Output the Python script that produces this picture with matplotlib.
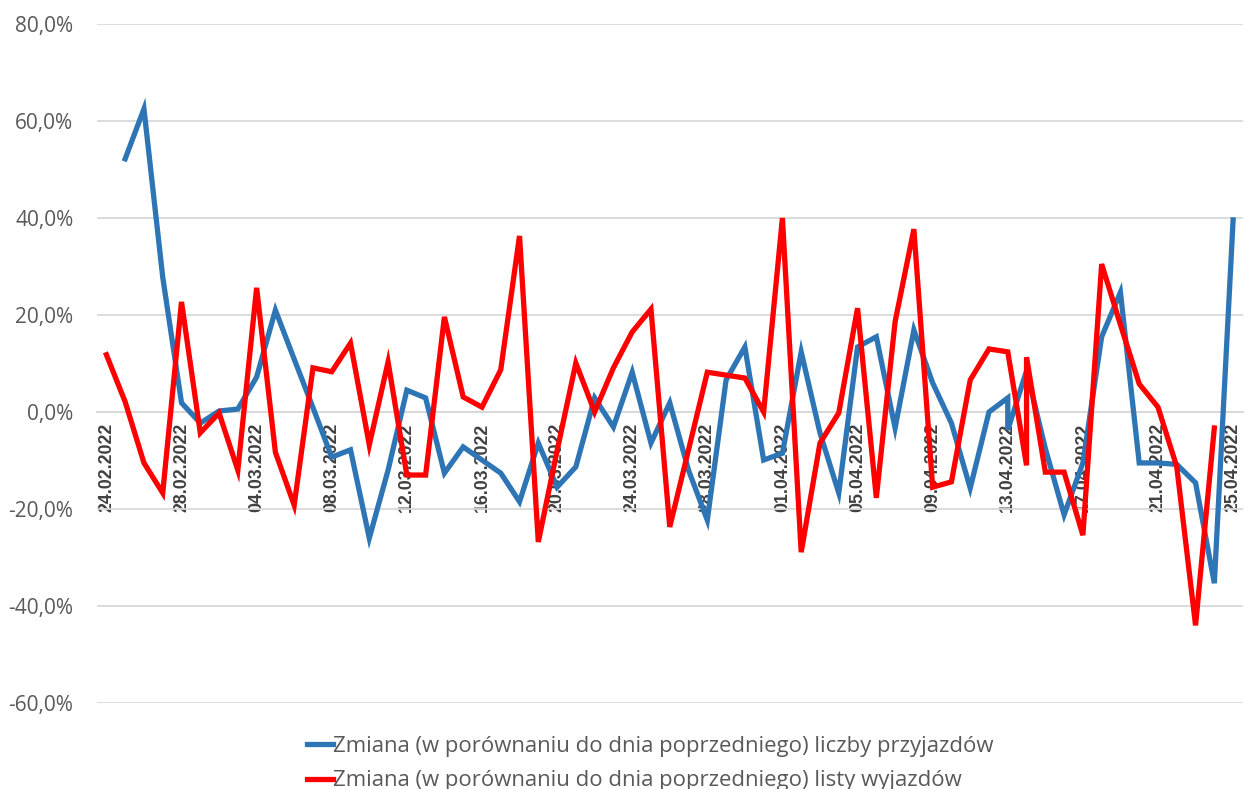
import matplotlib
matplotlib.use("Agg")
import matplotlib.pyplot as plt
import matplotlib.dates as mdates
from matplotlib.ticker import FuncFormatter
import numpy as np
import pandas as pd

# Daily dates of the observation period
dates = pd.date_range("2022-02-24", "2022-04-25", freq="D")

# Day-to-day change of arrivals, in percent (no value for the first day,
# two readings recorded on 13.04)
arrivals = [
    np.nan, 52.2, 62.5, 27.8, 1.9, -2.3, 0.2, 0.6, 7.2, 21.0,
    10.9, 0.9, -9.3, -7.8, -26.0, -12.0, 4.5, 2.9, -12.6, -7.2,
    -9.9, -12.6, -18.5, -6.4, -15.5, -11.3, 2.9, -3.1, 8.2, -6.4,
    1.9, -12.0, -22.3, 6.6, 13.4, -9.9, -8.5, 12.4, -4.3, -16.7,
    13.4, 15.5, -3.3, 16.9, 6.0, -2.3, -15.7, 0.0, 2.9, -3.7,
    8.5, -7.5, -21.2, -10.5, 15.5, 24.7, -10.5, -10.5, -10.8, -14.6,
    -35.3, 39.6,
]
arrivals_dates = dates.insert(48, dates[48])

# Day-to-day change of the departure list, in percent (last day missing,
# two readings recorded on 14.04)
departures = [
    11.8, 2.1, -10.5, -16.7, 22.7, -4.3, -0.2, -12.0, 25.6, -8.3,
    -19.2, 9.1, 8.3, 14.2, -6.8, 10.3, -13.0, -13.0, 19.6, 3.1,
    1.0, 8.7, 36.3, -26.8, -8.0, 10.1, 0.0, 9.1, 16.5, 21.2,
    -23.7, -7.8, 8.2, 7.6, 7.0, 0.0, 40.0, -28.9, -6.4, -0.2,
    21.4, -17.7, 18.6, 37.7, -15.5, -14.4, 6.6, 13.0, 12.4, -11.0,
    11.3, -12.4, -12.4, -25.4, 30.5, 18.0, 5.8, 1.0, -11.3, -44.0,
    -3.3,
]
departures_dates = dates[:60].insert(49, dates[49])

tick_dates = dates[::4]
y_ticks = [-60, -40, -20, 0, 20, 40, 60, 80]

label_arrivals = "Zmiana (w porównaniu do dnia poprzedniego) liczby przyjazdów"
label_departures = "Zmiana (w porównaniu do dnia poprzedniego) listy wyjazdów"

BLUE = "#2E75B6"
RED = "#FF0000"
GRID = "#D9D9D9"
TEXT = "#595959"

fig = plt.figure(figsize=(12.5, 7.89), dpi=100)
ax = fig.add_axes([0.0776, 0.109, 0.9164, 0.8606])

ax.plot(arrivals_dates, arrivals, color=BLUE, lw=3.8,
        solid_joinstyle="miter", label=label_arrivals, zorder=3)
ax.plot(departures_dates, departures, color=RED, lw=3.8,
        solid_joinstyle="miter", label=label_departures, zorder=4)

ax.set_xlim(dates[0] - pd.Timedelta(hours=12), dates[-1] + pd.Timedelta(hours=12))
ax.set_ylim(-60, 80)
ax.set_yticks(y_ticks)
ax.yaxis.set_major_formatter(FuncFormatter(lambda v, p: f"{v:.1f}%".replace(".", ",")))
ax.grid(axis="y", color=GRID, lw=1.3, zorder=0)
ax.set_axisbelow(True)

for side in ("top", "right", "left"):
    ax.spines[side].set_visible(False)
ax.spines["bottom"].set_position(("data", 0))
ax.spines["bottom"].set_color(GRID)
ax.spines["bottom"].set_linewidth(1.3)

ax.set_xticks(tick_dates)
ax.xaxis.set_major_formatter(mdates.DateFormatter("%d.%m.%Y"))
ax.tick_params(axis="x", length=0, pad=8, labelrotation=90, labelsize=12.8,
               labelcolor="#404040")
for t in ax.get_xticklabels():
    t.set_fontfamily("Liberation Sans")
    t.set_fontweight("bold")
ax.tick_params(axis="y", length=0, pad=17, labelsize=15, labelcolor=TEXT)
for t in ax.get_yticklabels():
    t.set_fontfamily("Open Sans")

leg = fig.legend(loc="upper center", bbox_to_anchor=(0.52, 1 - 725 / 789),
                 ncol=1, frameon=False, handlelength=1.2, handletextpad=0.0,
                 labelspacing=0.6, borderpad=0,
                 prop={"family": "Open Sans", "size": 15.9})
for t in leg.get_texts():
    t.set_color(TEXT)

fig.savefig("out.png", dpi=100)
